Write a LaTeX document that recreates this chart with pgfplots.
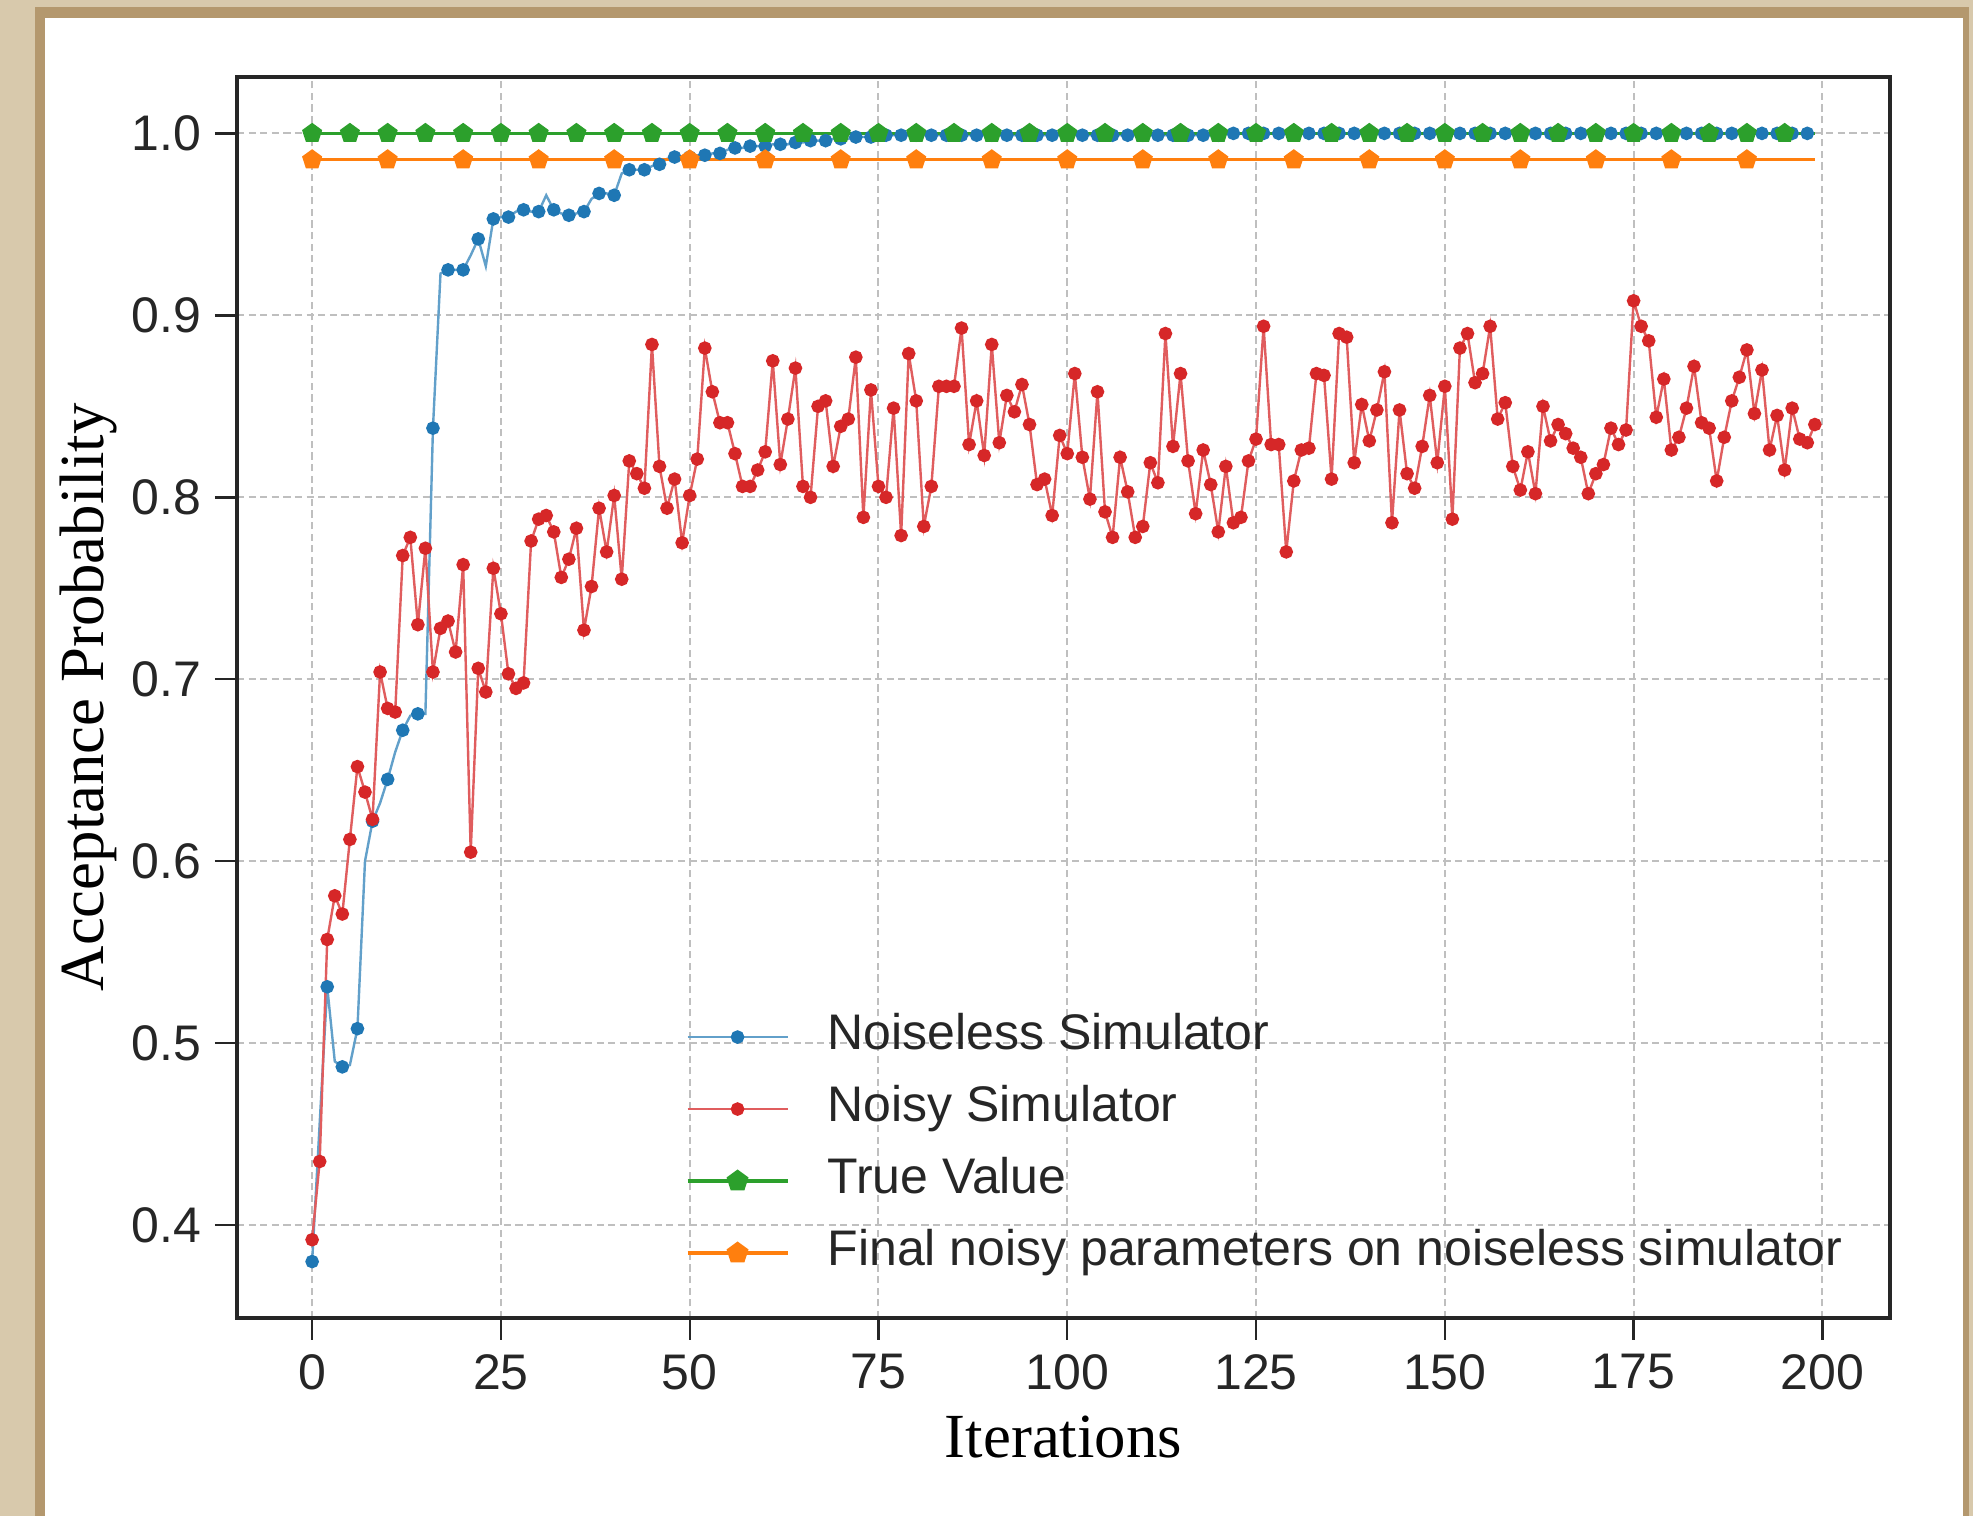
\documentclass[border=0pt]{standalone}
\usepackage{fontspec}
\setmainfont{Liberation Sans}
\newfontfamily\seriffont{Liberation Serif}
\usepackage{pgfplots}
\usepackage{pgfplotstable}
\pgfplotsset{compat=1.18}
\usetikzlibrary{plotmarks}

\definecolor{mplblue}{HTML}{1F77B4}
\definecolor{mplred}{HTML}{D62728}
\definecolor{mplgreen}{HTML}{2CA02C}
\definecolor{mplorange}{HTML}{FF7F0E}
\definecolor{paper}{RGB}{216,201,172}
\definecolor{paperedge}{RGB}{180,152,110}

% noiseless simulator
\pgfplotstableread[row sep=\\]{
it val\\
0 0.380\\ 1 0.456\\ 2 0.531\\ 3 0.490\\ 4 0.487\\ 5 0.488\\ 6 0.508\\ 7 0.600\\ 8 0.622\\ 9 0.632\\
10 0.645\\ 11 0.660\\ 12 0.672\\ 13 0.680\\ 14 0.681\\ 15 0.681\\ 16 0.838\\ 17 0.923\\ 18 0.925\\ 19 0.925\\
20 0.925\\ 21 0.933\\ 22 0.942\\ 23 0.927\\ 24 0.953\\ 25 0.954\\ 26 0.954\\ 27 0.957\\ 28 0.958\\ 29 0.957\\
30 0.957\\ 31 0.966\\ 32 0.958\\ 33 0.956\\ 34 0.955\\ 35 0.956\\ 36 0.957\\ 37 0.964\\ 38 0.967\\ 39 0.967\\
40 0.966\\ 41 0.978\\ 42 0.980\\ 43 0.980\\ 44 0.980\\ 45 0.982\\ 46 0.983\\ 47 0.986\\ 48 0.987\\ 49 0.987\\
50 0.987\\ 51 0.988\\ 52 0.988\\ 53 0.989\\ 54 0.989\\ 55 0.991\\ 56 0.992\\ 57 0.992\\ 58 0.993\\ 59 0.993\\
60 0.993\\ 61 0.994\\ 62 0.994\\ 63 0.994\\ 64 0.995\\ 65 0.995\\ 66 0.996\\ 67 0.996\\ 68 0.996\\ 69 0.997\\
70 0.997\\ 71 0.997\\ 72 0.998\\ 73 0.998\\ 74 0.998\\ 75 0.999\\ 76 0.999\\ 77 0.999\\ 78 0.999\\ 79 0.999\\
80 0.999\\ 81 0.999\\ 82 0.999\\ 83 0.999\\ 84 0.999\\ 85 0.999\\ 86 0.999\\ 87 0.999\\ 88 0.999\\ 89 0.999\\
90 0.999\\ 91 0.999\\ 92 0.999\\ 93 0.999\\ 94 0.999\\ 95 0.999\\ 96 0.999\\ 97 0.999\\ 98 0.999\\ 99 0.999\\
100 0.999\\ 101 0.999\\ 102 0.999\\ 103 0.999\\ 104 0.999\\ 105 0.999\\ 106 0.999\\ 107 0.999\\ 108 0.999\\ 109 0.999\\
110 0.999\\ 111 0.999\\ 112 0.999\\ 113 0.999\\ 114 0.999\\ 115 0.999\\ 116 0.999\\ 117 0.999\\ 118 0.999\\ 119 0.999\\
120 0.999\\ 121 1.000\\ 122 1.000\\ 123 1.000\\ 124 1.000\\ 125 1.000\\ 126 1.000\\ 127 1.000\\ 128 1.000\\ 129 1.000\\
130 1.000\\ 131 1.000\\ 132 1.000\\ 133 1.000\\ 134 1.000\\ 135 1.000\\ 136 1.000\\ 137 1.000\\ 138 1.000\\ 139 1.000\\
140 1.000\\ 141 1.000\\ 142 1.000\\ 143 1.000\\ 144 1.000\\ 145 1.000\\ 146 1.000\\ 147 1.000\\ 148 1.000\\ 149 1.000\\
150 1.000\\ 151 1.000\\ 152 1.000\\ 153 1.000\\ 154 1.000\\ 155 1.000\\ 156 1.000\\ 157 1.000\\ 158 1.000\\ 159 1.000\\
160 1.000\\ 161 1.000\\ 162 1.000\\ 163 1.000\\ 164 1.000\\ 165 1.000\\ 166 1.000\\ 167 1.000\\ 168 1.000\\ 169 1.000\\
170 1.000\\ 171 1.000\\ 172 1.000\\ 173 1.000\\ 174 1.000\\ 175 1.000\\ 176 1.000\\ 177 1.000\\ 178 1.000\\ 179 1.000\\
180 1.000\\ 181 1.000\\ 182 1.000\\ 183 1.000\\ 184 1.000\\ 185 1.000\\ 186 1.000\\ 187 1.000\\ 188 1.000\\ 189 1.000\\
190 1.000\\ 191 1.000\\ 192 1.000\\ 193 1.000\\ 194 1.000\\ 195 1.000\\ 196 1.000\\ 197 1.000\\ 198 1.000\\ 199 1.000\\
}\noiseless

% noisy simulator
\pgfplotstableread[row sep=\\]{
it val\\
0 0.392\\ 1 0.435\\ 2 0.557\\ 3 0.581\\ 4 0.571\\ 5 0.612\\ 6 0.652\\ 7 0.638\\ 8 0.623\\ 9 0.704\\
10 0.684\\ 11 0.682\\ 12 0.768\\ 13 0.778\\ 14 0.730\\ 15 0.772\\ 16 0.704\\ 17 0.728\\ 18 0.732\\ 19 0.715\\
20 0.763\\ 21 0.605\\ 22 0.706\\ 23 0.693\\ 24 0.761\\ 25 0.736\\ 26 0.703\\ 27 0.695\\ 28 0.698\\ 29 0.776\\
30 0.788\\ 31 0.790\\ 32 0.781\\ 33 0.756\\ 34 0.766\\ 35 0.783\\ 36 0.727\\ 37 0.751\\ 38 0.794\\ 39 0.770\\
40 0.801\\ 41 0.755\\ 42 0.820\\ 43 0.813\\ 44 0.805\\ 45 0.884\\ 46 0.817\\ 47 0.794\\ 48 0.810\\ 49 0.775\\
50 0.801\\ 51 0.821\\ 52 0.882\\ 53 0.858\\ 54 0.841\\ 55 0.841\\ 56 0.824\\ 57 0.806\\ 58 0.806\\ 59 0.815\\
60 0.825\\ 61 0.875\\ 62 0.818\\ 63 0.843\\ 64 0.871\\ 65 0.806\\ 66 0.800\\ 67 0.850\\ 68 0.853\\ 69 0.817\\
70 0.839\\ 71 0.843\\ 72 0.877\\ 73 0.789\\ 74 0.859\\ 75 0.806\\ 76 0.800\\ 77 0.849\\ 78 0.779\\ 79 0.879\\
80 0.853\\ 81 0.784\\ 82 0.806\\ 83 0.861\\ 84 0.861\\ 85 0.861\\ 86 0.893\\ 87 0.829\\ 88 0.853\\ 89 0.823\\
90 0.884\\ 91 0.830\\ 92 0.856\\ 93 0.847\\ 94 0.862\\ 95 0.840\\ 96 0.807\\ 97 0.810\\ 98 0.790\\ 99 0.834\\
100 0.824\\ 101 0.868\\ 102 0.822\\ 103 0.799\\ 104 0.858\\ 105 0.792\\ 106 0.778\\ 107 0.822\\ 108 0.803\\ 109 0.778\\
110 0.784\\ 111 0.819\\ 112 0.808\\ 113 0.890\\ 114 0.828\\ 115 0.868\\ 116 0.820\\ 117 0.791\\ 118 0.826\\ 119 0.807\\
120 0.781\\ 121 0.817\\ 122 0.786\\ 123 0.789\\ 124 0.820\\ 125 0.832\\ 126 0.894\\ 127 0.829\\ 128 0.829\\ 129 0.770\\
130 0.809\\ 131 0.826\\ 132 0.827\\ 133 0.868\\ 134 0.867\\ 135 0.810\\ 136 0.890\\ 137 0.888\\ 138 0.819\\ 139 0.851\\
140 0.831\\ 141 0.848\\ 142 0.869\\ 143 0.786\\ 144 0.848\\ 145 0.813\\ 146 0.805\\ 147 0.828\\ 148 0.856\\ 149 0.819\\
150 0.861\\ 151 0.788\\ 152 0.882\\ 153 0.890\\ 154 0.863\\ 155 0.868\\ 156 0.894\\ 157 0.843\\ 158 0.852\\ 159 0.817\\
160 0.804\\ 161 0.825\\ 162 0.802\\ 163 0.850\\ 164 0.831\\ 165 0.840\\ 166 0.835\\ 167 0.827\\ 168 0.822\\ 169 0.802\\
170 0.813\\ 171 0.818\\ 172 0.838\\ 173 0.829\\ 174 0.837\\ 175 0.908\\ 176 0.894\\ 177 0.886\\ 178 0.844\\ 179 0.865\\
180 0.826\\ 181 0.833\\ 182 0.849\\ 183 0.872\\ 184 0.841\\ 185 0.838\\ 186 0.809\\ 187 0.833\\ 188 0.853\\ 189 0.866\\
190 0.881\\ 191 0.846\\ 192 0.870\\ 193 0.826\\ 194 0.845\\ 195 0.815\\ 196 0.849\\ 197 0.832\\ 198 0.830\\ 199 0.840\\
}\noisy

\begin{document}
\begin{tikzpicture}
% paper background
\path[use as bounding box] (-59.25pt,-49.5pt) rectangle (434pt,329.5pt);
\fill[paper] (-59.25pt,-49.5pt) rectangle (434pt,329.5pt);
\fill[paperedge] (-50.5pt,-49.5pt) rectangle (433pt,327.75pt);
\fill[white] (-48pt,-49.5pt) rectangle (431.5pt,325pt);

\begin{axis}[
    width=413.25pt, height=310.25pt, scale only axis,
    xmin=-9.95, xmax=208.95,
    ymin=0.349, ymax=1.031,
    xtick={0,25,50,75,100,125,150,175,200},
    ytick={0.4,0.5,0.6,0.7,0.8,0.9,1.0},
    yticklabel style={/pgf/number format/.cd, fixed, fixed zerofill, precision=1},
    /pgf/number format/assume math mode=true,
    tick label style={font=\fontsize{12.5}{15}\selectfont, color=black!85},
    tick align=outside, tick pos=left,
    major tick length=5.5pt,
    tick style={black!85, line width=0.6pt},
    axis line style={black!85, line width=0.9pt},
    grid=major,
    major grid style={black!25, line width=0.5pt, dash pattern=on 1.8pt off 1.1pt},
    xlabel={Iterations},
    ylabel={Acceptance Probability},
    label style={font=\seriffont\fontsize{15.7}{18}\selectfont},
    xlabel style={at={(axis description cs:0.5,-0.0959)}, anchor=center},
    ylabel style={at={(axis description cs:-0.0901,0.5)}, anchor=center},
    legend image code/.code={\draw[mark repeat=2,mark phase=2] plot coordinates {(0pt,0pt) (12.5pt,0pt) (25pt,0pt)};},
    legend cell align=left,
    legend style={draw=none, fill=none, at={(axis description cs:0.2716,0.2457)}, anchor=north west,
        inner sep=0pt, outer sep=0pt, font=\fontsize{12.5}{15}\selectfont, text=black!85,
        row sep=6pt, nodes={inner sep=0pt, text height=9pt, text depth=3pt},
        /tikz/every odd column/.append style={column sep=9.6pt}},
]
\addplot[mplblue!70!white, line width=0.6pt, mark=*, mark repeat=2, mark size=1.4pt,
    mark options={draw=mplblue, fill=mplblue}] table[x=it, y=val]{\noiseless};
\addplot[mplred!75!white, line width=0.6pt, mark=*, mark size=1.4pt,
    mark options={draw=mplred, fill=mplred}] table[x=it, y=val]{\noisy};

% true value
\addplot[mplgreen, line width=0.8pt,
    legend image code/.code={\draw[sharp plot, mark=pentagon*, mark repeat=2, mark phase=2, mark size=2.4pt,
        mark options={draw=mplgreen, fill=mplgreen}] plot coordinates {(0pt,0pt) (12.5pt,0pt) (25pt,0pt)};}]
    coordinates {(0,1.0) (199,1.0)};
\addplot[forget plot, only marks, mark=pentagon*, mark size=2.4pt, mplgreen] coordinates {
    (0,1.0) (5,1.0) (10,1.0) (15,1.0) (20,1.0) (25,1.0) (30,1.0) (35,1.0) (40,1.0) (45,1.0)
    (50,1.0) (55,1.0) (60,1.0) (65,1.0) (70,1.0) (75,1.0) (80,1.0) (85,1.0) (90,1.0) (95,1.0)
    (100,1.0) (105,1.0) (110,1.0) (115,1.0) (120,1.0) (125,1.0) (130,1.0) (135,1.0) (140,1.0) (145,1.0)
    (150,1.0) (155,1.0) (160,1.0) (165,1.0) (170,1.0) (175,1.0) (180,1.0) (185,1.0) (190,1.0) (195,1.0)};

% final noisy parameters
\addplot[mplorange, line width=0.8pt,
    legend image code/.code={\draw[sharp plot, mark=pentagon*, mark repeat=2, mark phase=2, mark size=2.4pt,
        mark options={draw=mplorange, fill=mplorange}] plot coordinates {(0pt,0pt) (12.5pt,0pt) (25pt,0pt)};}]
    coordinates {(0,0.9855) (199,0.9855)};
\addplot[forget plot, only marks, mark=pentagon*, mark size=2.4pt, mplorange] coordinates {
    (0,0.9855) (10,0.9855) (20,0.9855) (30,0.9855) (40,0.9855) (50,0.9855) (60,0.9855) (70,0.9855)
    (80,0.9855) (90,0.9855) (100,0.9855) (110,0.9855) (120,0.9855) (130,0.9855) (140,0.9855)
    (150,0.9855) (160,0.9855) (170,0.9855) (180,0.9855) (190,0.9855)};

\legend{Noiseless Simulator, Noisy Simulator, True Value, Final noisy parameters on noiseless simulator}
\end{axis}
\end{tikzpicture}
\end{document}
